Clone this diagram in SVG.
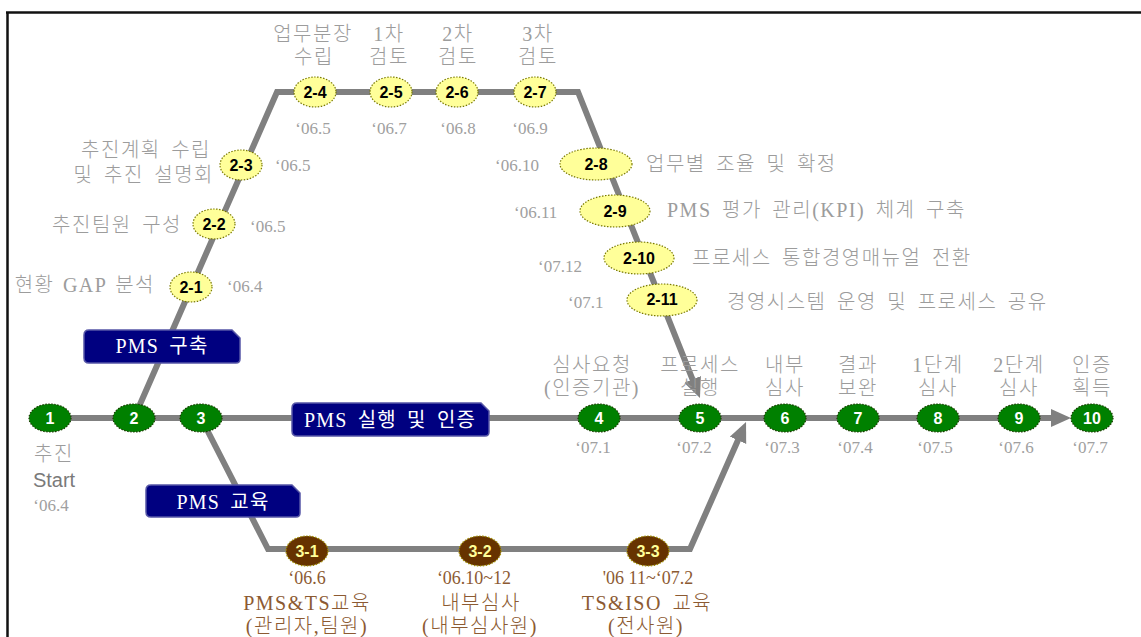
<svg xmlns="http://www.w3.org/2000/svg" width="1141" height="637" viewBox="0 0 1141 637">
<style>
.ln{fill:none;stroke:#808080;stroke-width:6;stroke-linejoin:miter}
.g{fill:#008000;stroke:#1a3a00;stroke-width:1.2;stroke-dasharray:1.5 1.5}
.y{fill:#ffff99;stroke:#7a7a00;stroke-width:1.2;stroke-dasharray:1.5 1.5}
.b{fill:#663300;stroke:#a09000;stroke-width:1.2;stroke-dasharray:1.5 1.5}
.nt{font-family:"Liberation Sans",Arial,sans-serif;font-weight:bold;font-size:16px;text-anchor:middle}
.wt{fill:#ffffff}
.kt{fill:#000000}
.bt{fill:#ffff99}
.lb{font-family:"Liberation Serif","Noto Sans CJK KR",serif;font-size:20px;font-weight:300;word-spacing:4px;letter-spacing:1.5px;fill:#9c9c9c}
.dt{font-family:"Liberation Serif","Noto Sans CJK KR",serif;font-size:17px;fill:#a0a0a0}
.br{font-family:"Liberation Serif","Noto Sans CJK KR",serif;font-size:20px;font-weight:300;word-spacing:4px;letter-spacing:1.5px;fill:#8c5a32;text-anchor:middle}
.bd{font-family:"Liberation Serif","Noto Sans CJK KR",serif;font-size:18px;fill:#8c5a32;text-anchor:middle}
.m{text-anchor:middle}
.e{text-anchor:end}
.band{fill:#000080;stroke:#5656a6;stroke-width:1.5}
.bx{font-family:"Liberation Serif","Noto Sans CJK KR",serif;font-size:20px;word-spacing:4px;letter-spacing:1.2px;fill:#ffffff;text-anchor:middle}
</style>
<defs>
<marker id="ah" markerUnits="userSpaceOnUse" markerWidth="22" markerHeight="20" refX="12" refY="9" orient="auto">
<path d="M0,0 L20,9 L0,18 Z" fill="#808080"/>
</marker>
</defs>
<rect width="1141" height="637" fill="#ffffff"/>
<g id="frame">
<line x1="6" y1="12.5" x2="1141" y2="12.5" stroke="#111" stroke-width="2.5"/>
<line x1="7.5" y1="12" x2="7.5" y2="637" stroke="#111" stroke-width="2.5"/>
</g>
<g id="connectors">
<path class="ln" d="M50,418 L1063,418" marker-end="url(#ah)"/>
<path class="ln" d="M134,418 L277,92 L578,92 L697,390.6" marker-end="url(#ah)"/>
<path class="ln" d="M201,418 L268,549 L690,549 L742.8,429.3" marker-end="url(#ah)"/>
</g>
<g id="band-build"><path class="band" d="M89,330 H232 L240,338 V359 Q240,363 236,363 H89 Q84,363 84,358 V335 Q84,330 89,330 Z"/><text class="bx" x="162" y="353">PMS 구축</text></g>
<g id="band-run"><path class="band" d="M297,403 H481 L489,411 V432 Q489,436 485,436 H297 Q292,436 292,431 V408 Q292,403 297,403 Z"/><text class="bx" x="390" y="427">PMS 실행 및 인증</text></g>
<g id="band-edu"><path class="band" d="M151,485 H292 L300,493 V513 Q300,517 296,517 H151 Q146,517 146,512 V490 Q146,485 151,485 Z"/><text class="bx" x="223" y="509">PMS 교육</text></g>

<g id="n1"><ellipse class="g" cx="50" cy="418" rx="21" ry="14"/><text class="nt wt" x="50" y="424">1</text>
<text class="lb m" x="54" y="461">추진</text>
<text x="54" y="487" font-family="Liberation Sans,Arial,sans-serif" font-size="20" fill="#7a7a7a" text-anchor="middle">Start</text>
<text class="dt m" x="51" y="511">‘06.4</text></g>
<g id="n2"><ellipse class="g" cx="134" cy="418" rx="21" ry="14"/><text class="nt wt" x="134" y="424">2</text></g>
<g id="n3"><ellipse class="g" cx="201" cy="418" rx="21" ry="14"/><text class="nt wt" x="201" y="424">3</text></g>
<g id="n4"><ellipse class="g" cx="599" cy="418" rx="21" ry="14"/><text class="nt wt" x="599" y="424">4</text>
<text class="lb m" x="592" y="372">심사요청</text><text class="lb m" x="592" y="395">(인증기관)</text><text class="dt m" x="593" y="453">‘07.1</text></g>
<g id="n5"><ellipse class="g" cx="700" cy="418" rx="21" ry="14"/><text class="nt wt" x="700" y="424">5</text>
<text class="lb m" x="700" y="372">프로세스</text><text class="lb m" x="700" y="395">실행</text><text class="dt m" x="694" y="453">‘07.2</text></g>
<g id="n6"><ellipse class="g" cx="785" cy="418" rx="21" ry="14"/><text class="nt wt" x="785" y="424">6</text>
<text class="lb m" x="785" y="372">내부</text><text class="lb m" x="785" y="395">심사</text><text class="dt m" x="782" y="453">‘07.3</text></g>
<g id="n7"><ellipse class="g" cx="858" cy="418" rx="21" ry="14"/><text class="nt wt" x="858" y="424">7</text>
<text class="lb m" x="858" y="372">결과</text><text class="lb m" x="858" y="395">보완</text><text class="dt m" x="855" y="453">‘07.4</text></g>
<g id="n8"><ellipse class="g" cx="938" cy="418" rx="21" ry="14"/><text class="nt wt" x="938" y="424">8</text>
<text class="lb m" x="938" y="372">1단계</text><text class="lb m" x="938" y="395">심사</text><text class="dt m" x="935" y="453">‘07.5</text></g>
<g id="n9"><ellipse class="g" cx="1019" cy="418" rx="21" ry="14"/><text class="nt wt" x="1019" y="424">9</text>
<text class="lb m" x="1019" y="372">2단계</text><text class="lb m" x="1019" y="395">심사</text><text class="dt m" x="1016" y="453">‘07.6</text></g>
<g id="n10"><ellipse class="g" cx="1092" cy="418" rx="21" ry="14"/><text class="nt wt" x="1092" y="424">10</text>
<text class="lb m" x="1092" y="372">인증</text><text class="lb m" x="1092" y="395">획득</text><text class="dt m" x="1090" y="453">‘07.7</text></g>

<g id="n2-1"><ellipse class="y" cx="191" cy="287" rx="21" ry="15"/><text class="nt kt" x="191" y="293">2-1</text>
<text class="lb e" x="155" y="292" style="word-spacing:2px">현황 GAP 분석</text><text class="dt" x="227" y="292">‘06.4</text></g>
<g id="n2-2"><ellipse class="y" cx="214" cy="224" rx="21" ry="15"/><text class="nt kt" x="214" y="230">2-2</text>
<text class="lb e" x="182" y="232">추진팀원 구성</text><text class="dt" x="250" y="232">‘06.5</text></g>
<g id="n2-3"><ellipse class="y" cx="241" cy="165" rx="21" ry="15"/><text class="nt kt" x="241" y="171">2-3</text>
<text class="lb e" x="211" y="157">추진계획 수립</text><text class="lb e" x="214" y="182">및 추진 설명회</text><text class="dt" x="275" y="171">‘06.5</text></g>
<g id="n2-4"><ellipse class="y" cx="315" cy="92" rx="21" ry="15"/><text class="nt kt" x="315" y="98">2-4</text>
<text class="lb m" x="313" y="41">업무분장</text><text class="lb m" x="314" y="64">수립</text><text class="dt m" x="313" y="134">‘06.5</text></g>
<g id="n2-5"><ellipse class="y" cx="391" cy="92" rx="21" ry="15"/><text class="nt kt" x="391" y="98">2-5</text>
<text class="lb m" x="389" y="41">1차</text><text class="lb m" x="389" y="64">검토</text><text class="dt m" x="389" y="134">‘06.7</text></g>
<g id="n2-6"><ellipse class="y" cx="457" cy="92" rx="21" ry="15"/><text class="nt kt" x="457" y="98">2-6</text>
<text class="lb m" x="458" y="41">2차</text><text class="lb m" x="458" y="64">검토</text><text class="dt m" x="458" y="134">‘06.8</text></g>
<g id="n2-7"><ellipse class="y" cx="535" cy="92" rx="21" ry="15"/><text class="nt kt" x="535" y="98">2-7</text>
<text class="lb m" x="538" y="41">3차</text><text class="lb m" x="538" y="64">검토</text><text class="dt m" x="530" y="134">‘06.9</text></g>
<g id="n2-8"><ellipse class="y" cx="596" cy="164" rx="36" ry="16"/><text class="nt kt" x="596" y="170">2-8</text>
<text class="dt" x="495" y="171">‘06.10</text><text class="lb" x="646" y="171">업무별 조율 및 확정</text></g>
<g id="n2-9"><ellipse class="y" cx="615" cy="211" rx="35" ry="16"/><text class="nt kt" x="615" y="217">2-9</text>
<text class="dt" x="514" y="218">‘06.11</text><text class="lb" x="667" y="217">PMS 평가 관리(KPI) 체계 구축</text></g>
<g id="n2-10"><ellipse class="y" cx="639" cy="258" rx="35" ry="16"/><text class="nt kt" x="639" y="264">2-10</text>
<text class="dt" x="538" y="272">‘07.12</text><text class="lb" x="692" y="265">프로세스 통합경영매뉴얼 전환</text></g>
<g id="n2-11"><ellipse class="y" cx="662" cy="300" rx="35" ry="16"/><text class="nt kt" x="662" y="305" font-weight="normal" font-size="15">2-11</text>
<text class="dt" x="568" y="308">‘07.1</text><text class="lb" x="727" y="309">경영시스템 운영 및 프로세스 공유</text></g>

<g id="n3-1"><ellipse class="b" cx="307" cy="551" rx="21" ry="15"/><text class="nt bt" x="307" y="557">3-1</text>
<text class="bd" x="307" y="584">‘06.6</text><text class="br" x="307" y="610">PMS&amp;TS교육</text><text class="br" x="307" y="633">(관리자,팀원)</text></g>
<g id="n3-2"><ellipse class="b" cx="480" cy="551" rx="21" ry="15"/><text class="nt bt" x="480" y="557">3-2</text>
<text class="bd" x="474" y="584">‘06.10~12</text><text class="br" x="481" y="610">내부심사</text><text class="br" x="480" y="633">(내부심사원)</text></g>
<g id="n3-3"><ellipse class="b" cx="648" cy="551" rx="21" ry="15"/><text class="nt bt" x="648" y="557">3-3</text>
<text class="bd" x="648" y="584">'06 11~‘07.2</text><text class="br" x="647" y="610">TS&amp;ISO 교육</text><text class="br" x="646" y="633">(전사원)</text></g>
</svg>
